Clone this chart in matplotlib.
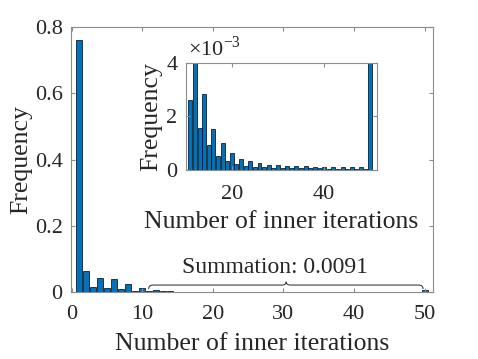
import numpy as np
import matplotlib
matplotlib.use('Agg')
import matplotlib.pyplot as plt
from matplotlib.path import Path
import matplotlib.patches as mpatches
from matplotlib.ticker import FuncFormatter

plt.rcParams['font.family'] = ['Liberation Serif', 'DejaVu Serif']
plt.rcParams['mathtext.fontset'] = 'custom'
plt.rcParams['mathtext.rm'] = 'Liberation Serif'

# data: frequency of inner iterations, bins 1..50
iters = np.arange(1, 51)
freq = np.array([0.760, 0.062, 0.014, 0.043, 0.011, 0.039, 0.009, 0.023, 0.004, 0.012,
                 2.62e-3, 5.5e-3, 1.58e-3, 2.84e-3, 0.93e-3, 1.53e-3, 0.54e-3, 1.00e-3, 0.34e-3, 0.62e-3,
                 0.22e-3, 0.40e-3, 0.16e-3, 0.34e-3, 0.11e-3, 0.25e-3, 0.10e-3, 0.20e-3, 0.08e-3, 0.17e-3,
                 0.08e-3, 0.15e-3, 0.07e-3, 0.14e-3, 0.06e-3, 0.14e-3, 0.06e-3, 0.12e-3, 0.06e-3, 0.10e-3,
                 0.05e-3, 0.10e-3, 0.03e-3, 0.10e-3, 0.05e-3, 0.10e-3, 0.05e-3, 0.10e-3, 0.05e-3, 5.0e-3])
main_xticks = [0, 10, 20, 30, 40, 50]
main_yticks = [0, 0.2, 0.4, 0.6, 0.8]
inset_start = 11
inset_xticks = [20, 40]
inset_yticks = [0, 2, 4]
summary_label = 'Summation: 0.0091'

bar_col = '#0072BD'
ax_col = '0.55'
txt_col = '#262626'

def style_axes(ax, xpad, ypad):
	for s in ax.spines.values():
		s.set_color(ax_col)
		s.set_linewidth(0.8)
	ax.tick_params(direction='in', top=True, right=True, length=3, width=0.8,
	               color=ax_col, labelcolor=txt_col, labelsize=16)
	ax.tick_params(axis='x', pad=xpad)
	ax.tick_params(axis='y', pad=ypad)

fig = plt.figure(figsize=(4.78, 3.59), dpi=100)

# main axes
ax = fig.add_axes([0.1485, 0.1866, 0.7573, 0.738])
ax.bar(iters, freq, width=0.85, color=bar_col, edgecolor='k', linewidth=0.5)
ax.set_xlim(-0.1, 51.2)
ax.set_ylim(0, 0.8)
ax.set_xticks(main_xticks)
ax.set_yticks(main_yticks)
ax.yaxis.set_major_formatter(FuncFormatter(lambda v, p: '%g' % v))
style_axes(ax, 9, 6)
ax.set_xlabel('Number of inner iterations', fontsize=18.5, color=txt_col, labelpad=7)
ax.set_ylabel('Frequency', fontsize=18.5, color=txt_col, labelpad=1.5)

# brace over the tail
x0, x1, xm = 10.9, 49.8, 30.4
yb, yl, yt = 0.009, 0.021, 0.031
verts = [(x0, yb), (x0, yl), (x0 + 0.6, yl),
         (xm - 0.6, yl), (xm, yl), (xm, yt),
         (xm, yl), (xm + 0.6, yl),
         (x1 - 0.6, yl), (x1, yl), (x1, yb)]
codes = [Path.MOVETO, Path.CURVE3, Path.CURVE3,
         Path.LINETO, Path.CURVE3, Path.CURVE3,
         Path.CURVE3, Path.CURVE3,
         Path.LINETO, Path.CURVE3, Path.CURVE3]
ax.add_patch(mpatches.PathPatch(Path(verts, codes), fill=False, lw=0.8, color='0.25'))
ax.text(28.8, 0.058, summary_label, fontsize=17, color=txt_col, ha='center', va='baseline')

# inset
ax_in = fig.add_axes([0.3885, 0.5265, 0.3996, 0.298])
sel = iters >= inset_start
ax_in.bar(iters[sel], freq[sel] * 1e3, width=0.85, color=bar_col, edgecolor='k', linewidth=0.5)
ax_in.set_xlim(10, 51.4)
ax_in.set_ylim(0, 4)
ax_in.set_xticks(inset_xticks)
ax_in.set_yticks(inset_yticks)
style_axes(ax_in, 11, 6)
ax_in.set_xlabel('Number of inner iterations', fontsize=18.5, color=txt_col, labelpad=5)
ax_in.set_ylabel('Frequency', fontsize=18.5, color=txt_col, labelpad=3)
ax_in.text(0.01, 1.02, r'$\times$10$^{\mathrm{-3}}$', transform=ax_in.transAxes,
           fontsize=16, color=txt_col, ha='left', va='bottom')

plt.savefig('out.png', dpi=100)
plt.close()
